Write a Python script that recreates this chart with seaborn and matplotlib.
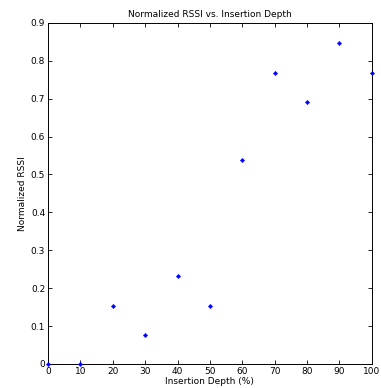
import matplotlib
matplotlib.use("Agg")
import matplotlib.pyplot as plt
import seaborn as sns
import pandas as pd

# data
depth = [0, 10, 20, 30, 40, 50, 60, 70, 80, 90, 100]
rssi = [0.0, 0.0, 0.154, 0.077, 0.231, 0.154, 0.538, 0.769, 0.692, 0.846, 0.769]
df = pd.DataFrame({"depth": depth, "rssi": rssi})

sns.set_style("ticks")
plt.rcParams["font.family"] = ["DejaVu Sans"]
plt.rcParams["font.size"] = 6.5
plt.rcParams["text.color"] = "black"
plt.rcParams["axes.labelcolor"] = "black"
plt.rcParams["xtick.color"] = "black"
plt.rcParams["ytick.color"] = "black"

fig = plt.figure(figsize=(3.81, 3.88), dpi=100)
ax = fig.add_axes([0.126, 0.062, 0.85, 0.879])

sns.scatterplot(data=df, x="depth", y="rssi", ax=ax, color="blue",
                marker="D", s=5, edgecolor="blue", linewidth=0.3, clip_on=False, zorder=3)

ax.set_xlim(0, 100)
ax.set_ylim(0, 0.9)
ax.set_xticks(range(0, 101, 10))
ax.set_yticks([i / 10 for i in range(10)])
ax.set_yticklabels(["0"] + [f"{i/10:.1f}" for i in range(1, 10)])
ax.tick_params(direction="in", length=3, width=0.6, top=True, right=True,
               labelsize=6.5, pad=2, colors="black")
for s in ax.spines.values():
    s.set_linewidth(0.7)
    s.set_color("black")
ax.set_xlabel("Insertion Depth (%)", fontsize=6.5, labelpad=1)
ax.set_ylabel("Normalized RSSI", fontsize=6.5, labelpad=3)
ax.set_title("Normalized RSSI vs. Insertion Depth", fontsize=6.5, pad=4)

fig.savefig("out.png", dpi=100)
